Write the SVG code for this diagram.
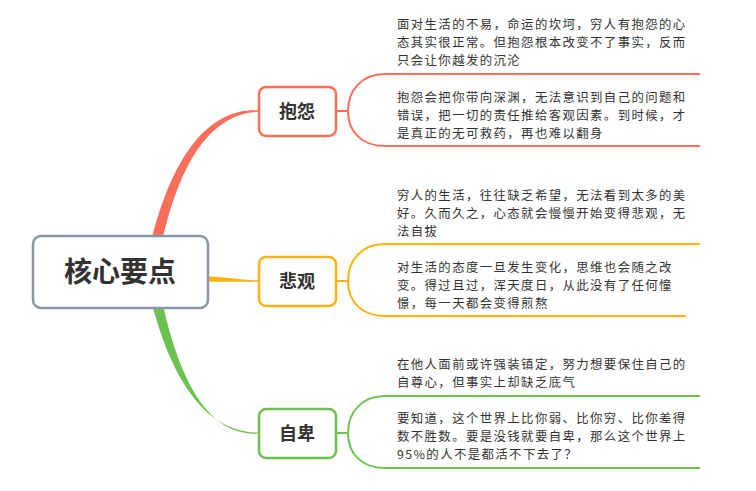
<svg xmlns="http://www.w3.org/2000/svg" width="756" height="491" viewBox="0 0 756 491">
<style>
.bg{fill:#ffffff}
.node{fill:#ffffff;stroke-width:2.5}
.lbl{font-family:"Noto Sans CJK SC","Noto Sans",sans-serif;font-weight:bold;fill:#333333;text-anchor:middle}
.sub{font-family:"Noto Sans CJK SC","Noto Sans",sans-serif;font-size:12.4px;letter-spacing:1.4px;fill:#333333}
.br{fill:none;stroke-width:2}
.red{stroke:#FA6E5A}
.org{stroke:#FFB20F}
.grn{stroke:#6DC150}
</style>
<rect class="bg" x="0" y="0" width="756" height="491"/>
<g id="connectors">
  <path d="M150,246 C176,138 219,108 259,110.5 L259,111.5 C221,114 184,142 161,246 Z" fill="#FA6E5A"/>
  <path d="M200,276 C230,277 240,280.3 259,280.3 L259,281.7 C240,281.7 230,282 200,281.5 Z" fill="#FFB20F"/>
  <path d="M150,296 C176,402 219,433 259,432.5 L259,433.5 C221,436 184,406 161,296 Z" fill="#6DC150"/>
  <path class="br red" d="M336,111 H348 M700,74 H385 C362,74 348,90 348,111 C348,132 362,146 385,146 H700"/>
  <path class="br org" d="M336,281 H348 M700,244 H385 C362,244 348,260 348,281 C348,302 362,316 385,316 H686"/>
  <path class="br grn" d="M336,433 H348 M700,396 H385 C362,396 348,412 348,433 C348,454 362,468 385,468 H700"/>
</g>
<g id="center">
  <rect class="node" x="33" y="236" width="175" height="72" rx="8" stroke="#8896A8" stroke-width="3"/>
  <text class="lbl" x="120" y="282" font-size="28">核心要点</text>
</g>
<g id="n-baoyuan">
  <rect class="node" x="259" y="87" width="77" height="49" rx="7" stroke="#FA6E5A"/>
  <text class="lbl" x="297" y="118" font-size="18">抱怨</text>
</g>
<g id="n-beiguan">
  <rect class="node" x="259" y="257" width="77" height="49" rx="7" stroke="#FFB20F"/>
  <text class="lbl" x="297" y="288" font-size="18">悲观</text>
</g>
<g id="n-zibei">
  <rect class="node" x="259" y="409" width="77" height="49" rx="7" stroke="#6DC150"/>
  <text class="lbl" x="297" y="440" font-size="18">自卑</text>
</g>
<g id="t-baoyuan-1">
  <text class="sub"><tspan x="397" y="29">面对生活的不易，命运的坎坷，穷人有抱怨的心</tspan><tspan x="397" y="47">态其实很正常。但抱怨根本改变不了事实，反而</tspan><tspan x="397" y="65">只会让你越发的沉沦</tspan></text>
</g>
<g id="t-baoyuan-2">
  <text class="sub"><tspan x="397" y="102">抱怨会把你带向深渊，无法意识到自己的问题和</tspan><tspan x="397" y="120">错误，把一切的责任推给客观因素。到时候，才</tspan><tspan x="397" y="138">是真正的无可救药，再也难以翻身</tspan></text>
</g>
<g id="t-beiguan-1">
  <text class="sub"><tspan x="397" y="200">穷人的生活，往往缺乏希望，无法看到太多的美</tspan><tspan x="397" y="218">好。久而久之，心态就会慢慢开始变得悲观，无</tspan><tspan x="397" y="236">法自拔</tspan></text>
</g>
<g id="t-beiguan-2">
  <text class="sub"><tspan x="397" y="272">对生活的态度一旦发生变化，思维也会随之改</tspan><tspan x="397" y="290">变。得过且过，浑天度日，从此没有了任何憧</tspan><tspan x="397" y="308">憬，每一天都会变得煎熬</tspan></text>
</g>
<g id="t-zibei-1">
  <text class="sub"><tspan x="397" y="369">在他人面前或许强装镇定，努力想要保住自己的</tspan><tspan x="397" y="387">自尊心，但事实上却缺乏底气</tspan></text>
</g>
<g id="t-zibei-2">
  <text class="sub"><tspan x="397" y="423">要知道，这个世界上比你弱、比你穷、比你差得</tspan><tspan x="397" y="441">数不胜数。要是没钱就要自卑，那么这个世界上</tspan><tspan x="397" y="459">95%的人不是都活不下去了？</tspan></text>
</g>
</svg>
